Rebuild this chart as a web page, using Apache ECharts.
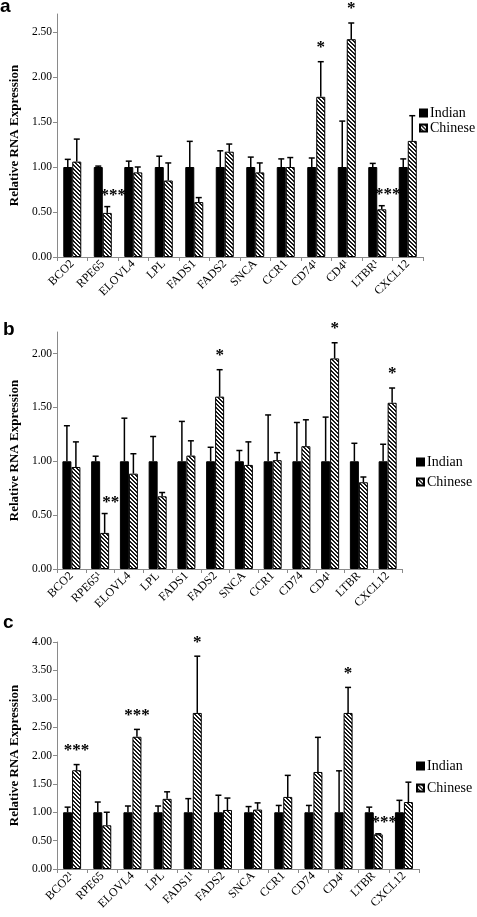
<!DOCTYPE html>
<html>
<head>
<meta charset="utf-8">
<script src="https://cdn.jsdelivr.net/npm/echarts@6/dist/echarts.min.js"></script>
<style>
html,body{margin:0;padding:0;background:#fff;}
#chart{width:477px;height:917px;}
</style>
</head>
<body>
<div id="chart"></div>
<script>
// ---------- DATA ----------
const categoriesA = ['BCO2','RPE65','ELOVL4','LPL','FADS1','FADS2','SNCA','CCR1','CD74\u00b9','CD4\u00b9','LTBR\u00b9','CXCL12'];
const categoriesB = ['BCO2','RPE65\u00b9','ELOVL4','LPL','FADS1','FADS2','SNCA','CCR1','CD74','CD4\u00b9','LTBR','CXCL12'];
const categoriesC = ['BCO2\u00b9','RPE65','ELOVL4','LPL','FADS1\u00b9','FADS2','SNCA','CCR1','CD74','CD4\u00b9','LTBR','CXCL12'];

const indianA = [1.00,1.00,1.00,1.00,1.00,1.00,1.00,1.00,1.00,1.00,1.00,1.00];
const indianErrTopA = [1.085,1.01,1.065,1.12,1.285,1.18,1.11,1.09,1.10,1.51,1.04,1.09];
const chineseA = [1.06,0.49,0.94,0.85,0.61,1.17,0.94,1.00,1.78,2.42,0.53,1.29];
const chineseErrTopA = [1.31,0.56,1.00,1.045,0.66,1.255,1.045,1.105,2.17,2.60,0.57,1.57];
const starsA = ['','***','','','','','','','*','*','***',''];

const indianB = [1.00,1.00,1.00,1.00,1.00,1.00,1.00,1.00,1.00,1.00,1.00,1.00];
const indianErrTopB = [1.33,1.047,1.40,1.23,1.37,1.13,1.10,1.43,1.36,1.41,1.167,1.158];
const chineseB = [0.947,0.335,0.885,0.675,1.053,1.60,0.966,1.01,1.14,1.955,0.805,1.543];
const chineseErrTopB = [1.18,0.515,1.07,0.71,1.19,1.85,1.18,1.08,1.385,2.10,0.854,1.68];
const starsB = ['','**','','','','*','','','','*','','*'];

const indianC = [1.00,1.00,1.00,1.00,1.00,1.00,1.00,1.00,1.00,1.00,1.00,1.00];
const indianErrTopC = [1.09,1.18,1.11,1.11,1.24,1.30,1.10,1.12,1.12,1.73,1.09,1.21];
const chineseC = [1.74,0.77,2.33,1.236,2.75,1.04,1.047,1.27,1.71,2.75,0.61,1.18];
const chineseErrTopC = [1.84,1.00,2.46,1.36,3.75,1.25,1.165,1.65,2.32,3.20,0.62,1.53];
const starsC = ['***','','***','','*','','','','','*','***',''];

const yMaxA = 2.7, yMaxB = 2.2, yMaxC = 4.0;
const yTitle = 'Relative RNA Expression';
const seriesNames = ['Indian','Chinese'];
const panelLetters = ['a','b','c'];

// ---------- STYLE ----------
const SERIF = '"Liberation Serif","Times New Roman",serif';
function makeHatch(){
  const c = document.createElement('canvas');
  c.width = 4; c.height = 4;
  const g = c.getContext('2d');
  g.fillStyle = '#fff'; g.fillRect(0,0,4,4);
  g.fillStyle = '#1a1a1a';
  for (let i=0;i<4;i++){ g.fillRect(i,i,1,1); g.fillRect((i+1)%4,i,1,1); }
  return c;
}
const hatch = {image: makeHatch(), repeat: 'repeat'};

const grids = [
  {left:51, right:54, top:14, height:243},
  {left:49, right:75, top:332, height:237},
  {left:49, right:58, top:642, height:227}
];
const cats = [categoriesA, categoriesB, categoriesC];
const maxes = [yMaxA, yMaxB, yMaxC];

const xAxes = cats.map((c,i)=>({
  type:'category', gridIndex:i, data:c,
  axisLine:{lineStyle:{color:'#8a8a8a', width:1}},
  axisTick:{show:true, length:4, alignWithLabel:false, lineStyle:{color:'#8a8a8a'}},
  axisLabel:{rotate:45, interval:0, fontFamily:SERIF, fontSize:12, color:'#000', margin:5}
}));
const yAxes = maxes.map((m,i)=>({
  type:'value', gridIndex:i, min:0, max:m, interval:0.5,
  splitLine:{show:false},
  axisLine:{show:true, lineStyle:{color:'#8a8a8a', width:1}},
  axisTick:{show:true, length:4, lineStyle:{color:'#8a8a8a'}},
  axisLabel:{formatter:v=>v.toFixed(2), fontFamily:SERIF, fontSize:11.5, color:'#000', margin:5, showMaxLabel: i===2},
  name: yTitle, nameLocation:'middle', nameRotate:90, nameGap: i===0?36:35,
  nameTextStyle:{fontFamily:SERIF, fontWeight:'bold', fontSize:13, color:'#000'}
}));

function barPair(p, ind, chi){
  return [
    {name:seriesNames[0], type:'bar', xAxisIndex:p, yAxisIndex:p, data:ind, barWidth:9, barGap:'0%',
     itemStyle:{color:'#000', borderColor:'#000', borderWidth:1}, animation:false},
    {name:seriesNames[1], type:'bar', xAxisIndex:p, yAxisIndex:p, data:chi, barWidth:9, barGap:'0%',
     itemStyle:{color:hatch, borderColor:'#000', borderWidth:1}, animation:false}
  ];
}
function errSeries(p, ind, indErr, chi, chiErr, stars){
  return {
    type:'custom', xAxisIndex:p, yAxisIndex:p, z:5, silent:true, animation:false,
    data: ind.map((v,i)=>[i, v, indErr[i], chi[i], chiErr[i]]),
    encode:{x:0, y:[1,2,3,4]},
    renderItem:(params, api)=>{
      const i = api.value(0);
      const children = [];
      const off = 4.5;
      [[api.value(1), api.value(2), -off],[api.value(3), api.value(4), off]].forEach(([v,e,dx])=>{
        const b = api.coord([i,v]); const t = api.coord([i,e]);
        const x = b[0]+dx;
        children.push({type:'line', shape:{x1:x,y1:b[1],x2:x,y2:t[1]}, style:{stroke:'#000', lineWidth:1.5}});
        children.push({type:'line', shape:{x1:x-3,y1:t[1],x2:x+3,y2:t[1]}, style:{stroke:'#000', lineWidth:1.5}});
      });
      const s = stars[params.dataIndex];
      if (s){
        const t = api.coord([i, api.value(4)]);
        const low = s.length>1 && api.value(3) < api.value(1);
        const x = t[0] + off + (low ? 6 : 0);
        const y = t[1] - (low ? 5 : 8) - 6;
        children.push({type:'text', x:x, y:y, style:{text:s, fill:'#000', font:'bold 17px '+SERIF, align:'center', verticalAlign:'middle'}});
      }
      return {type:'group', children};
    }
  };
}

const series = [].concat(
  barPair(0, indianA, chineseA), barPair(1, indianB, chineseB), barPair(2, indianC, chineseC),
  [errSeries(0, indianA, indianErrTopA, chineseA, chineseErrTopA, starsA),
   errSeries(1, indianB, indianErrTopB, chineseB, chineseErrTopB, starsB),
   errSeries(2, indianC, indianErrTopC, chineseC, chineseErrTopC, starsC)]
);

const legendCfg = [
  {left:419, top:106, itemGap:1},
  {left:416, top:455, itemGap:6},
  {left:416, top:759, itemGap:8}
].map(c=>({
  data:seriesNames, orient:'vertical', left:c.left, top:c.top, itemGap:c.itemGap, padding:0,
  itemWidth:7, itemHeight:7, icon:'rect', selectedMode:false,
  textStyle:{fontFamily:SERIF, fontSize:14, color:'#000', padding:[0,0,0,-2]}
}));

const letterPos = [[0,6],[3,329],[3,622]];
const graphic = panelLetters.map((l,i)=>({
  type:'text', left:letterPos[i][0], top:letterPos[i][1]-9,
  style:{text:l, font:'bold 19px "Liberation Sans",Arial,sans-serif', fill:'#000'}
}));

const chart = echarts.init(document.getElementById('chart'), null, {renderer:'canvas'});
chart.setOption({
  animation:false,
  backgroundColor:'#fff',
  grid:grids, xAxis:xAxes, yAxis:yAxes, series:series, legend:legendCfg, graphic:graphic
});
</script>
</body>
</html>
